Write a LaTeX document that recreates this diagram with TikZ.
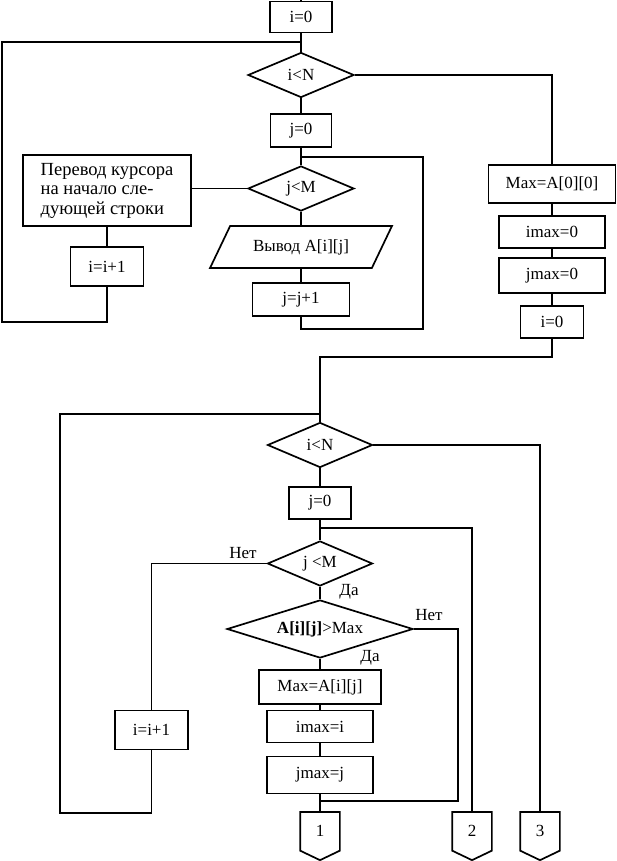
\documentclass[tikz,border=0pt]{standalone}
\usepackage{fontspec}
\setmainfont{Liberation Serif}
\usetikzlibrary{shapes.geometric}

\begin{document}
\begin{tikzpicture}[x=1pt, y=-1pt, line width=1.7pt,
		font=\fontsize{17}{19.5}\selectfont,
		box/.style={rectangle, draw, inner sep=0pt},
		cond/.style={diamond, draw, inner sep=0pt, aspect=2.3},
		io/.style={trapezium, trapezium left angle=48.6, trapezium right angle=131.4, trapezium stretches=true, draw, inner sep=0pt},
		conn/.style={rectangle, inner sep=0pt, minimum width=38pt, minimum height=37pt},
		lbl/.style={inner sep=0pt}]

		\useasboundingbox (0,0) rectangle (616,861);

		\draw (301,17) node (iA) [box, minimum width=62pt, minimum height=31pt] {i=0};
		\draw (301,75) node (cN) [cond, minimum width=106pt, minimum height=45pt] {i<N};
		\draw (301,130.5) node (jA) [box, minimum width=61pt, minimum height=33pt] {j=0};
		\draw (301,188.5) node (cM) [cond, minimum width=106pt, minimum height=45pt] {j<M};
		\draw (107,190.5) node (nl) [box, minimum width=168pt, minimum height=71pt, align=left, font=\fontsize{18.5}{19.5}\selectfont] {Перевод курсора\\на начало сле-\\дующей строки};
		\draw (107,266.5) node (incA) [box, minimum width=73pt, minimum height=39pt] {i=i+1};
		\draw (301,247) node (out) [io, minimum width=182pt, minimum height=42pt] {Вывод A[i][j]};
		\draw (301,299.5) node (jinc) [box, minimum width=97pt, minimum height=33pt] {j=j+1};

		\draw (552,184) node (mxA) [box, minimum width=127pt, minimum height=38pt] {Max=A[0][0]};
		\draw (552,232) node (imA) [box, minimum width=106pt, minimum height=32pt] {imax=0};
		\draw (552,275.5) node (jmA) [box, minimum width=106pt, minimum height=35pt] {jmax=0};
		\draw (552,322) node (iB) [box, minimum width=63pt, minimum height=32pt] {i=0};

		\draw (320,445) node (cN2) [cond, minimum width=105pt, minimum height=45pt] {i<N};
		\draw (320,503) node (jB) [box, minimum width=62pt, minimum height=32pt] {j=0};
		\draw (320,563.5) node (cM2) [cond, minimum width=105pt, minimum height=45pt] {j <M};
		\draw (320,629) node (cmp) [cond, minimum width=186pt, minimum height=58pt] {\textbf{A[i][j]}>Max};
		\draw (320,687) node (mxB) [box, minimum width=122pt, minimum height=34pt] {Max=A[i][j]};
		\draw (320,726.5) node (imB) [box, minimum width=106pt, minimum height=32pt] {imax=i};
		\draw (320,775) node (jmB) [box, minimum width=106pt, minimum height=37pt] {jmax=j};
		\draw (151.5,730) node (incB) [box, minimum width=73pt, minimum height=39pt] {i=i+1};

		\draw (320,831.3) node (cA) [conn] {1};
		\draw (472,831.3) node (cB) [conn] {2};
		\draw (540,831.3) node (cC) [conn] {3};

		\draw (243,553) node (noA) [lbl] {Нет};
		\draw (349,592) node (yesA) [lbl] {Да};
		\draw (429,615) node (noB) [lbl] {Нет};
		\draw (370,658) node (yesB) [lbl] {Да};

		\coordinate (top) at (301,0);
		\coordinate (tl) at (2,42);
		\coordinate (bl) at (2,322);
		\coordinate (jr) at (423,157);
		\coordinate (jb) at (423,329);
		\coordinate (mid) at (320,357);
		\coordinate (lt) at (60,414);
		\coordinate (lb) at (60,812.7);
		\coordinate (jt) at (320,528);
		\coordinate (nr) at (458,801.3);

		\draw (top) -- (iA.north);
		\draw (iA.south) -- (cN.north);
		\draw (cN.south) -- (jA.north);
		\draw (jA.south) -- (cM.north);
		\draw (cM.south) -- (out.north);
		\draw (out.south) -- (jinc.north);
		\draw (cM.west) -- (cM.west -| nl.east);
		\draw (nl.south) -- (incA.north);
		\draw (incA.south) |- (bl) -- (tl) -- (tl -| iA.south);
		\draw (jinc.south) |- (jb) -- (jr) -- (jr -| jA.south);

		\draw (cN.east) -| (mxA.north);
		\draw (mxA.south) -- (imA.north);
		\draw (imA.south) -- (jmA.north);
		\draw (jmA.south) -- (iB.north);
		\draw (iB.south) |- (mid) -- (cN2.north);

		\draw (cN2.south) -- (jB.north);
		\draw (jB.south) -- (cM2.north);
		\draw (cM2.south) -- (cmp.north);
		\draw (cmp.south) -- (mxB.north);
		\draw (mxB.south) -- (imB.north);
		\draw (imB.south) -- (jmB.north);
		\draw (jmB.south) -- (cA.north);
		\draw (cM2.west) -| (incB.north);
		\draw (incB.south) |- (lb) -- (lt) -- (lt -| cN2.north);
		\draw (cN2.east) -| (cC.north);
		\draw (jt) -| (cB.north);
		\draw (cmp.east) -| (nr) -- (nr -| jmB.south);

		\foreach \c in {cA,cB,cC}
			\draw (\c.north west) -- (\c.north east) -- (\c.south east) -- ([yshift=-9.5pt]\c.south) -- (\c.south west) -- cycle;
	\end{tikzpicture}
\end{document}
